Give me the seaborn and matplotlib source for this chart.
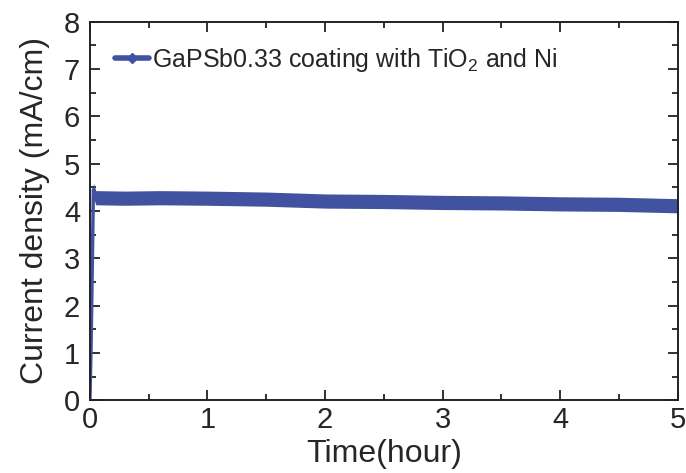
import numpy as np
import pandas as pd
import matplotlib
matplotlib.use("Agg")
import matplotlib.pyplot as plt
import seaborn as sns
from matplotlib.lines import Line2D
from matplotlib.ticker import MultipleLocator

# values
time_h = [0.0, 0.01, 0.03, 0.05, 0.3, 0.6, 1.0, 1.5, 2.0, 2.5, 3.0, 3.5, 4.0, 4.5, 5.0]
current = [0.0, 1.1, 4.45, 4.28, 4.27, 4.28, 4.27, 4.25, 4.21, 4.2, 4.18, 4.17, 4.15, 4.14, 4.11]
label = "GaPSb0.33 coating with TiO$_2$ and Ni"

df = pd.DataFrame({"time": time_h, "current": current})

sns.set_style("ticks")
plt.rcParams["font.family"] = ["Liberation Sans", "DejaVu Sans"]
plt.rcParams["mathtext.fontset"] = "custom"
plt.rcParams["mathtext.rm"] = "Liberation Sans"

color = "#4052a0"
fig = plt.figure(figsize=(6.86, 4.73), dpi=100)
ax = fig.add_axes([0.131, 0.154, 0.857, 0.80])

sns.lineplot(data=df, x="time", y="current", ax=ax, color=color, lw=2.5)
band = df[df["time"] >= 0.03]
ax.fill_between(band["time"], band["current"] - 0.15, band["current"] + 0.15,
                color=color, lw=0)

ax.set_xlim(0, 5)
ax.set_ylim(0, 8)
ax.xaxis.set_major_locator(MultipleLocator(1))
ax.xaxis.set_minor_locator(MultipleLocator(0.5))
ax.yaxis.set_major_locator(MultipleLocator(1))
ax.yaxis.set_minor_locator(MultipleLocator(0.5))
ax.tick_params(which="both", direction="in", top=True, right=True, width=1.3,
               color="#222222")
ax.tick_params(which="major", length=7, labelsize=21)
ax.tick_params(axis="y", which="major", pad=7)
ax.tick_params(axis="x", which="major", pad=4)
ax.tick_params(which="minor", length=4)
for s in ax.spines.values():
    s.set_linewidth(1.4)
    s.set_color("#222222")

ax.set_xlabel("Time(hour)", fontsize=23, labelpad=4)
ax.set_ylabel("Current density (mA/cm)", fontsize=23, labelpad=10)

handle = Line2D([], [], color=color, lw=4, marker="D", markersize=5)
ax.legend([handle], [label], loc="upper left", frameon=False, fontsize=18,
          handlelength=1.35, handletextpad=0.12, bbox_to_anchor=(0.005, 0.995))

fig.savefig("out.png", dpi=100)
